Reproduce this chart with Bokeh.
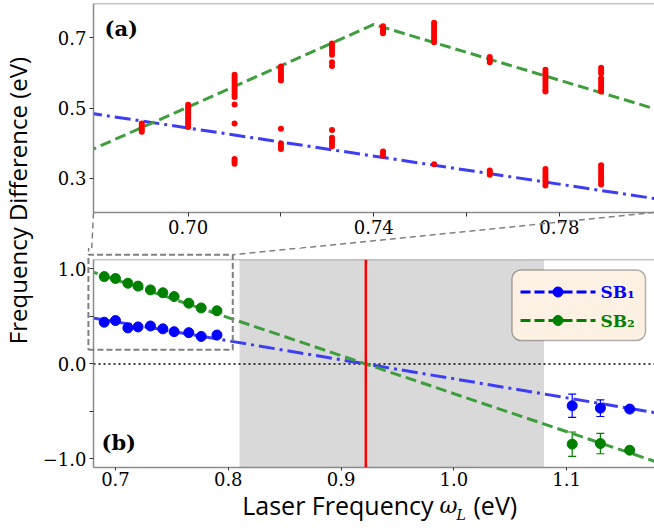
from bokeh.plotting import figure
from bokeh.models import (Range1d, FixedTicker, Span, BoxAnnotation, ColumnDataSource,
                          Whisker, TeeHead, PrintfTickFormatter)
from bokeh.core.properties import value
from bokeh.layouts import row, column
from bokeh.embed import file_html
from bokeh.resources import INLINE

# ---------------- data: panel (a), raw side-band peak positions ----------------
OMEGA_A = [0.690, 0.700, 0.710, 0.720, 0.731, 0.742, 0.753, 0.765, 0.777, 0.789]
PEAKS_A = [
    [0.432, 0.438, 0.444, 0.450, 0.456],
    [0.446, 0.453, 0.460, 0.467, 0.474, 0.481, 0.488, 0.495, 0.502, 0.509],
    [0.595, 0.587, 0.579, 0.571, 0.563, 0.555, 0.547, 0.539, 0.531, 0.510, 0.456, 0.355, 0.348, 0.341],
    [0.618, 0.610, 0.602, 0.594, 0.586, 0.578, 0.441, 0.399, 0.391, 0.383],
    [0.684, 0.676, 0.668, 0.660, 0.652, 0.630, 0.620, 0.437, 0.415, 0.407, 0.399, 0.391],
    [0.733, 0.726, 0.719, 0.713, 0.376, 0.370, 0.364],
    [0.743, 0.735, 0.727, 0.719, 0.711, 0.703, 0.695, 0.687, 0.340],
    [0.645, 0.638, 0.630, 0.322, 0.316, 0.310],
    [0.609, 0.601, 0.593, 0.585, 0.577, 0.569, 0.561, 0.553, 0.547,
     0.326, 0.318, 0.310, 0.302, 0.294, 0.286, 0.279],
    [0.615, 0.607, 0.599, 0.585, 0.577, 0.569, 0.561, 0.553, 0.547,
     0.337, 0.329, 0.321, 0.313, 0.305, 0.297, 0.289, 0.282],
]
FIT_A_SB1_X = [0.678, 0.802]
FIT_A_SB1_Y = [0.487, 0.239]
FIT_A_SB2_X = [0.678, 0.740, 0.802]
FIT_A_SB2_Y = [0.374, 0.738, 0.492]
TICKS_A_X = [0.70, 0.74, 0.78]
MINOR_A_X = [0.72, 0.76]
TICKS_A_Y = [0.3, 0.5, 0.7]

# ---------------- data: panel (b), side-band shifts ----------------
OMEGA_LOW = [0.690, 0.700, 0.711, 0.720, 0.731, 0.742, 0.752, 0.765, 0.776, 0.790]
SB1_LOW = [0.44, 0.457, 0.38, 0.39, 0.40, 0.37, 0.34, 0.33, 0.29, 0.305]
SB2_LOW = [0.92, 0.90, 0.85, 0.82, 0.78, 0.75, 0.71, 0.64, 0.59, 0.56]
OMEGA_HIGH = [1.105, 1.130, 1.156]
SB1_HIGH = [-0.440, -0.465, -0.475]
SB1_ERR = [0.123, 0.088, 0.015]
SB2_HIGH = [-0.844, -0.838, -0.908]
SB2_ERR = [0.128, 0.107, 0.015]
FIT_B_X = [0.675, 1.180]
FIT_B_SB1_Y = [0.494, -0.516]
FIT_B_SB2_Y = [0.988, -1.032]
RESONANCE = 0.922
SHADE_X = (0.81, 1.08)
ZOOM_X = (0.676, 0.804)
ZOOM_Y = (0.15, 1.15)
TICKS_B_X = [0.7, 0.8, 0.9, 1.0, 1.1]
TICKS_B_Y = [-1.0, 0.0, 1.0]
MINOR_B_Y = [-0.5, 0.5]
LABELS_B_Y = {-1.0: "\u22121.0", 0.0: "0.0", 1.0: "1.0"}
SERIES = ["SB\u2081", "SB\u2082"]

# ---------------- styles ----------------
BLUE_FIT, GREEN_FIT = "#3d3df5", "#3e9e3e"
BLUE_PT, GREEN_PT = "#0000ff", "#008000"
AX_GRAY, DASH_GRAY = "#8a8a8a", "#808080"
SERIF, SANS = "DejaVu Serif", "Open Sans"

# ---------------- layout geometry (window pixels; page has no margin) ----------------
LAB_W, FIG_W = 36, 618
TOP_H, BOT_H = 248, 278
TB = dict(left=54, right=0, top=3, bottom=36)
BB = dict(left=57, right=0, top=11, bottom=59)
XR_A, YR_A = (0.6796, 0.8005), (0.2023, 0.7977)
XR_B, YR_B = (0.6805, 1.178), (-1.090, 1.100)

TOP_FRAME = (LAB_W + TB["left"], LAB_W + FIG_W - TB["right"], TB["top"], TOP_H - TB["bottom"])
BOT_FRAME = (LAB_W + BB["left"], LAB_W + FIG_W - BB["right"],
             TOP_H + BB["top"], TOP_H + BOT_H - BB["bottom"])


def maps(xr, yr, fr):
    L, R, T, B = fr

    def to_px(x, y):
        return (L + (x - xr[0]) / (xr[1] - xr[0]) * (R - L),
                T + (yr[1] - y) / (yr[1] - yr[0]) * (B - T))

    def to_data(px, py):
        return (xr[0] + (px - L) / (R - L) * (xr[1] - xr[0]),
                yr[1] - (py - T) / (B - T) * (yr[1] - yr[0]))
    return to_px, to_data


top_px, top_data = maps(XR_A, YR_A, TOP_FRAME)
bot_px, bot_data = maps(XR_B, YR_B, BOT_FRAME)


def style_axes(p):
    for ax in p.axis:
        ax.axis_line_color = AX_GRAY
        ax.axis_line_width = 1.5
        ax.major_tick_line_color = "#333333"
        ax.minor_tick_line_color = "#333333"
        ax.major_tick_in = 0
        ax.major_tick_out = 4
        ax.minor_tick_in = 0
        ax.minor_tick_out = 4
        ax.major_label_text_font = SERIF
        ax.major_label_text_font_size = "18px"
        ax.major_label_text_color = "black"
        ax.major_label_standoff = 3


def make_fig(w, h, xr, yr, b):
    p = figure(width=w, height=h, x_range=Range1d(*xr), y_range=Range1d(*yr),
               toolbar_location=None, output_backend="svg",
               min_border_left=b["left"], min_border_right=b["right"],
               min_border_top=b["top"], min_border_bottom=b["bottom"])
    p.grid.visible = False
    p.outline_line_color = None
    p.add_layout(Span(location=yr[1], dimension="width", line_color=AX_GRAY, line_width=1.5))
    style_axes(p)
    return p


def add_text(p, to_data, px, py, text, font, size, style="normal", align="left",
             baseline="middle", color="black", angle=0):
    x, y = to_data(px, py)
    p.text(x=[x], y=[y], text=[text], text_font=value(font), text_font_size=value(size),
           text_font_style=value(style), text_align=value(align),
           text_baseline=value(baseline), text_color=color, angle=angle,
           angle_units="deg", level="overlay")


def add_seg(p, to_data, P, Q, color, width, dash):
    (x0, y0), (x1, y1) = to_data(*P), to_data(*Q)
    p.segment(x0=[x0], y0=[y0], x1=[x1], y1=[y1], line_color=color, line_width=width,
              line_dash=dash, level="overlay")


# ================= panel (a) =================
pa = make_fig(FIG_W, TOP_H, XR_A, YR_A, TB)
pa.xaxis.ticker = FixedTicker(ticks=TICKS_A_X, minor_ticks=MINOR_A_X)
pa.yaxis.ticker = FixedTicker(ticks=TICKS_A_Y, minor_ticks=[])
pa.xaxis.formatter = PrintfTickFormatter(format="%.2f")
pa.yaxis.formatter = PrintfTickFormatter(format="%.1f")

pa.line(FIT_A_SB1_X, FIT_A_SB1_Y, line_color=BLUE_FIT, line_width=3, line_dash="16 5 3 5")
pa.line(FIT_A_SB2_X, FIT_A_SB2_Y, line_color=GREEN_FIT, line_width=3, line_dash="11 5")

peak_x = [w for w, ys in zip(OMEGA_A, PEAKS_A) for _ in ys]
peak_y = [y for ys in PEAKS_A for y in ys]
pa.scatter(peak_x, peak_y, size=6, fill_color="#ff0000", line_color=None)

add_text(pa, top_data, 101, 28, "(a)", SERIF, "21px", style="bold")

# ================= panel (b) =================
pb = make_fig(FIG_W, BOT_H, XR_B, YR_B, BB)
pb.xaxis.ticker = FixedTicker(ticks=TICKS_B_X, minor_ticks=[])
pb.yaxis.ticker = FixedTicker(ticks=TICKS_B_Y, minor_ticks=MINOR_B_Y)
pb.xaxis.formatter = PrintfTickFormatter(format="%.1f")
pb.yaxis.major_label_overrides = LABELS_B_Y
pb.xaxis.major_tick_out = 3
pb.xaxis.major_label_standoff = 1

pb.add_layout(BoxAnnotation(left=SHADE_X[0], right=SHADE_X[1], fill_color="#d9d9d9",
                            fill_alpha=1.0, line_color=None, level="underlay"))
pb.add_layout(Span(location=0.0, dimension="width", line_color="black", line_width=1.6,
                   line_dash="2 3", level="underlay"))

pb.line(FIT_B_X, FIT_B_SB1_Y, line_color=BLUE_FIT, line_width=3, line_dash="16 5 3 5")
pb.line(FIT_B_X, FIT_B_SB2_Y, line_color=GREEN_FIT, line_width=3, line_dash="11 5")
pb.add_layout(Span(location=RESONANCE, dimension="height", line_color="#ff0000", line_width=2.5))

for ys, err, col in [(SB1_HIGH, SB1_ERR, BLUE_PT), (SB2_HIGH, SB2_ERR, GREEN_PT)]:
    src = ColumnDataSource(dict(x=OMEGA_HIGH,
                                upper=[y + e for y, e in zip(ys, err)],
                                lower=[y - e for y, e in zip(ys, err)]))
    pb.add_layout(Whisker(base="x", upper="upper", lower="lower", source=src, dimension="height",
                          line_color=col, line_width=1.2,
                          upper_head=TeeHead(size=8, line_color=col, line_width=1.2),
                          lower_head=TeeHead(size=8, line_color=col, line_width=1.2)))

pb.scatter(OMEGA_LOW, SB1_LOW, size=10, fill_color=BLUE_PT, line_color=BLUE_PT)
pb.scatter(OMEGA_LOW, SB2_LOW, size=10, fill_color=GREEN_PT, line_color=GREEN_PT)
pb.scatter(OMEGA_HIGH, SB1_HIGH, size=10, fill_color=BLUE_PT, line_color=BLUE_PT)
pb.scatter(OMEGA_HIGH, SB2_HIGH, size=10, fill_color=GREEN_PT, line_color=GREEN_PT)

# zoom window marker (drawn unclipped, it pokes out of the frame)
bx = [ZOOM_X[0], ZOOM_X[1], ZOOM_X[1], ZOOM_X[0], ZOOM_X[0]]
by = [ZOOM_Y[0], ZOOM_Y[0], ZOOM_Y[1], ZOOM_Y[1], ZOOM_Y[0]]
pb.line(bx, by, line_color=DASH_GRAY, line_width=2, line_dash="6 3", level="overlay")

# connectors from panel (a) corners to the zoom window (split at the canvas boundary)
SPLIT = TOP_H


def at_y(P, Q, y):
    t = (y - P[1]) / (Q[1] - P[1])
    return (P[0] + t * (Q[0] - P[0]), y)


for xa, xb in [(XR_A[0], ZOOM_X[0]), (XR_A[1], ZOOM_X[1])]:
    P = top_px(xa, YR_A[0])
    Q = bot_px(xb, ZOOM_Y[1])
    add_seg(pa, top_data, P, at_y(P, Q, SPLIT + 3), DASH_GRAY, 1.5, "6 4")
    add_seg(pb, bot_data, at_y(P, Q, SPLIT - 3), Q, DASH_GRAY, 1.5, "6 4")

# legend (frame + samples)
lx0, ly0 = bot_data(511.5, 269.5)
lx1, ly1 = bot_data(645, 340)
pb.add_layout(BoxAnnotation(left=lx0, right=lx1, top=ly0, bottom=ly1, fill_color="#fdf1e3",
                            fill_alpha=1.0, line_color="black", line_width=1.5, border_radius=9,
                            level="annotation"))
for lab, col, cy in [(SERIES[0], BLUE_PT, 291.5), (SERIES[1], GREEN_PT, 320)]:
    add_seg(pb, bot_data, (520, cy), (595, cy), col, 3, "10 4")
    mx, my = bot_data(557.5, cy)
    pb.scatter([mx], [my], size=10, fill_color=col, line_color=col, level="overlay")
    add_text(pb, bot_data, 600, cy, lab, SERIF, "17px", style="bold", color=col)

add_text(pb, bot_data, 101, 442, "(b)", SERIF, "21px", style="bold")

# x-axis title: "Laser Frequency ω_L (eV)"
add_text(pb, bot_data, 433, 504, "Laser Frequency", SANS, "25px", align="right")
add_text(pb, bot_data, 439, 505, "\u03c9", SERIF, "22px", style="italic")
add_text(pb, bot_data, 456, 514, "L", SERIF, "14px", style="italic")
add_text(pb, bot_data, 473, 504, "(eV)", SANS, "25px")

# ================= shared y-axis title =================
pl = figure(width=LAB_W, height=TOP_H + BOT_H, x_range=Range1d(0, 1), y_range=Range1d(0, 1),
            toolbar_location=None, output_backend="svg", x_axis_location=None,
            y_axis_location=None, min_border=0)
pl.grid.visible = False
pl.outline_line_color = None
lab_data = maps((0, 1), (0, 1), (0, LAB_W, 0, TOP_H + BOT_H))[1]
add_text(pl, lab_data, 17, 200, "Frequency Difference (eV)", SANS, "24px", align="center",
         angle=90)

layout = row(pl, column(pa, pb))
open("out.html", "w").write(file_html(layout, INLINE))
